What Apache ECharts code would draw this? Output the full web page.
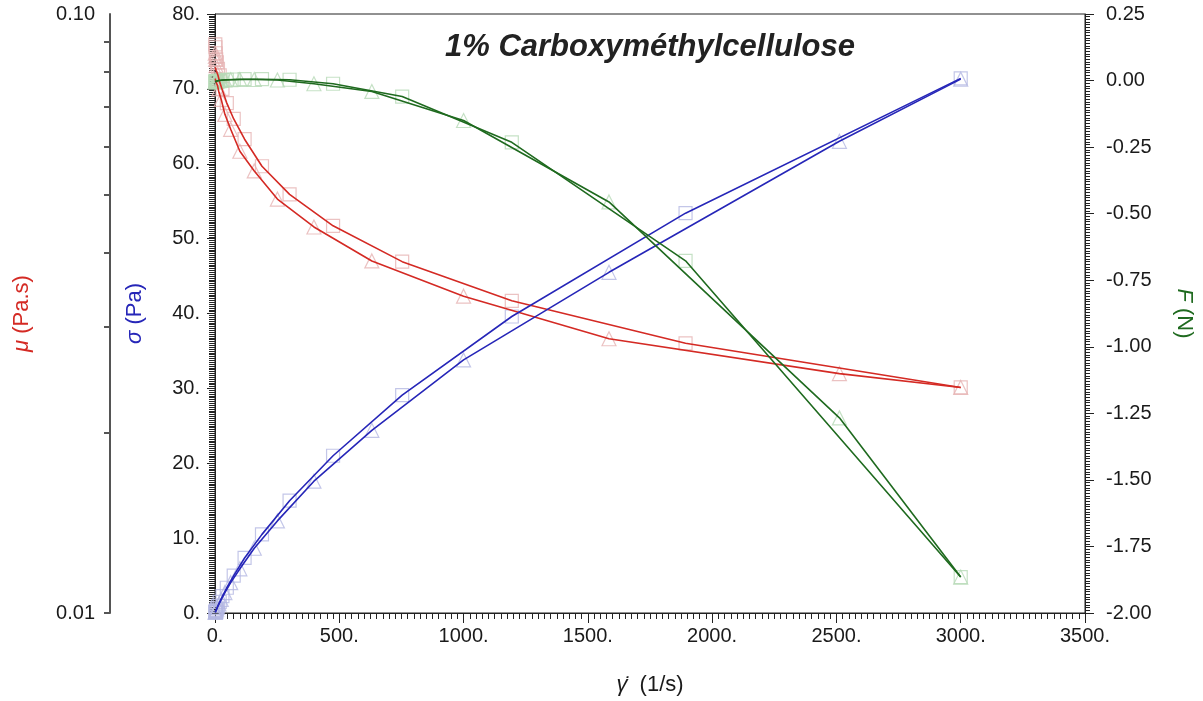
<!DOCTYPE html>
<html><head><meta charset="utf-8">
<script src="https://cdn.jsdelivr.net/npm/echarts@6/dist/echarts.min.js"></script>
<style>html,body{margin:0;padding:0;background:#fff}#c{width:1203px;height:701px}</style>
</head><body><div id="c"></div>
<script>
const chartTitle = '1% Carboxyméthylcellulose';
// shear rate (1/s) for the two measurement sets
const shearSq  = [1.2, 1.9, 3.0, 4.7, 7.5, 11.9, 18.9, 30, 47.5, 75.3, 119, 189, 300, 475, 753, 1194, 1893, 3000];
const shearTri = [1.0, 1.6, 2.5, 4.0, 6.3, 10, 15.8, 25.1, 39.8, 63.1, 100, 158, 251, 398, 631, 1000, 1585, 2512, 3000];
// viscosity mu (Pa.s): measured points
const muSq  = [0.089, 0.088, 0.086, 0.084, 0.083, 0.081, 0.079, 0.075, 0.071, 0.0668, 0.0618, 0.0557, 0.050, 0.0443, 0.0386, 0.0332, 0.0282, 0.0238];
const muTri = [0.086, 0.085, 0.084, 0.082, 0.080, 0.078, 0.075, 0.072, 0.068, 0.0642, 0.059, 0.0547, 0.0491, 0.0441, 0.0387, 0.0338, 0.0287, 0.0251, 0.0238];
// viscosity mu (Pa.s): curves
const muCurveSq  = [0.0815, 0.0813, 0.081, 0.0805, 0.080, 0.079, 0.077, 0.0745, 0.071, 0.0668, 0.0618, 0.0557, 0.050, 0.0443, 0.0386, 0.0332, 0.0282, 0.0238];
const muCurveTri = [0.078, 0.0778, 0.0775, 0.077, 0.0765, 0.076, 0.074, 0.072, 0.068, 0.0642, 0.059, 0.0547, 0.0491, 0.0441, 0.0387, 0.0338, 0.0287, 0.0251, 0.0238];
// shear stress sigma (Pa)
const sigmaSq  = [0.11, 0.17, 0.26, 0.39, 0.61, 0.96, 1.48, 2.25, 3.37, 5.0, 7.35, 10.5, 15.0, 21.0, 29.1, 39.6, 53.4, 71.4];
const sigmaTri = [0.086, 0.136, 0.21, 0.33, 0.50, 0.78, 1.2, 1.8, 2.72, 4.05, 5.9, 8.65, 12.3, 17.6, 24.4, 33.8, 45.5, 63.0, 71.3];
// normal force F (N)
const forceSq  = [-0.004, -0.003, -0.004, -0.002, -0.003, -0.001, 0.0, 0.002, 0.003, 0.004, 0.005, 0.005, 0.003, -0.012, -0.06, -0.232, -0.677, -1.865];
const forceTri = [-0.005, -0.004, -0.004, -0.003, -0.002, -0.001, 0.0, 0.001, 0.002, 0.003, 0.004, 0.004, 0.002, -0.012, -0.041, -0.15, -0.456, -1.267, -1.865];
// axis ticks
const muTickValues = [0.01, 0.02, 0.03, 0.04, 0.05, 0.06, 0.07, 0.08, 0.09, 0.1];

const FONT = 'Liberation Sans';
const TXT = '#1a1a1a';
const RED = '#d42a24', BLUE = '#2626b8', GREEN = '#1f6a1f';
const RED_M = '#e6b3b3', BLUE_M = '#b4b8e2', GREEN_M = '#b6d9b6';
const LBL = 20, NAME = 22;

function pairs(xs, ys) { return xs.map((x, i) => [x, ys[i]]); }

function lineSeries(xs, ys, yIdx, color) {
  return { type: 'line', yAxisIndex: yIdx, data: pairs(xs, ys), showSymbol: false, symbol: 'none',
    lineStyle: { color: color, width: 1.6 }, z: 5, animation: false };
}
function markSeries(xs, ys, yIdx, color, sym) {
  return { type: 'scatter', yAxisIndex: yIdx, data: pairs(xs, ys), symbol: sym, symbolSize: sym === 'rect' ? 13 : 14,
    itemStyle: { color: 'rgba(255,255,255,0)', borderColor: color, borderWidth: 1.2 }, z: 2, animation: false };
}
function nameStyle(color) {
  return { fontFamily: FONT, fontSize: NAME, color: color, rich: { i: { fontFamily: FONT, fontSize: NAME, fontStyle: 'italic', color: color } } };
}

const chart = echarts.init(document.getElementById('c'), null, { renderer: 'canvas' });
const option = {
  backgroundColor: '#fff',
  animation: false,
  title: { text: chartTitle, left: 645, top: 27, textAlign: 'center',
    textStyle: { fontFamily: FONT, fontSize: 31, fontWeight: 'bold', fontStyle: 'italic', color: '#222' } },
  grid: { left: 215, right: 113, top: 14, bottom: 85, show: true, borderColor: '#222', borderWidth: 1, backgroundColor: 'transparent' },
  xAxis: {
    type: 'value', min: 0, max: 3500, interval: 500,
    name: '{i|γ̇}  (1/s)', nameLocation: 'middle', nameGap: 61,
    nameTextStyle: nameStyle(TXT),
    axisLine: { show: true, lineStyle: { color: '#222', width: 1 } },
    axisTick: { show: true, inside: false, length: 10, lineStyle: { color: '#222' } },
    minorTick: { show: true, splitNumber: 20, length: 6, lineStyle: { color: '#222' } },
    axisLabel: { formatter: v => v + '.', fontFamily: FONT, fontSize: LBL, color: TXT, margin: 13 },
    splitLine: { show: false }
  },
  yAxis: [
    {
      type: 'value', position: 'left', min: 0, max: 80, interval: 10,
      name: '{i|σ} (Pa)', nameLocation: 'middle', nameGap: 69, nameRotate: 90,
      nameTextStyle: nameStyle(BLUE),
      axisLine: { show: true, lineStyle: { color: '#222', width: 1 } },
      axisTick: { show: true, inside: false, length: 8, lineStyle: { color: '#222' } },
      minorTick: { show: true, splitNumber: 40, length: 6, lineStyle: { color: '#222' } },
      axisLabel: { formatter: v => v + '.', fontFamily: FONT, fontSize: LBL, color: TXT, margin: 15 },
      splitLine: { show: false }
    },
    {
      type: 'log', logBase: 10, position: 'left', offset: 105, min: 0.01, max: 0.1, interval: 1,
      name: '{i|μ} (Pa.s)', nameLocation: 'middle', nameGap: 77, nameRotate: 90,
      nameTextStyle: nameStyle(RED),
      axisLine: { show: true, lineStyle: { color: '#555', width: 2 } },
      axisTick: { show: true, inside: false, length: 6, customValues: muTickValues, lineStyle: { color: '#555', width: 2 } },
      axisLabel: { formatter: v => Number(v).toFixed(2), fontFamily: FONT, fontSize: LBL, color: TXT, margin: 15 },
      splitLine: { show: false }
    },
    {
      type: 'value', position: 'right', min: -2, max: 0.25, interval: 0.25,
      name: '{i|F} (N)', nameLocation: 'middle', nameGap: 88, nameRotate: -90,
      nameTextStyle: nameStyle(GREEN),
      axisLine: { show: true, lineStyle: { color: '#222', width: 1 } },
      axisTick: { show: true, inside: false, length: 9, lineStyle: { color: '#222' } },
      minorTick: { show: true, splitNumber: 25, length: 5, lineStyle: { color: '#222' } },
      axisLabel: { formatter: v => v.toFixed(2), fontFamily: FONT, fontSize: LBL, color: TXT, margin: 21 },
      splitLine: { show: false }
    }
  ],
  series: [
    markSeries(shearSq, muSq, 1, RED_M, 'rect'),
    markSeries(shearTri, muTri, 1, RED_M, 'triangle'),
    markSeries(shearSq, sigmaSq, 0, BLUE_M, 'rect'),
    markSeries(shearTri, sigmaTri, 0, BLUE_M, 'triangle'),
    markSeries(shearSq, forceSq, 2, GREEN_M, 'rect'),
    markSeries(shearTri, forceTri, 2, GREEN_M, 'triangle'),
    lineSeries(shearSq, muCurveSq, 1, RED),
    lineSeries(shearTri, muCurveTri, 1, RED),
    lineSeries(shearSq, sigmaSq, 0, BLUE),
    lineSeries(shearTri, sigmaTri, 0, BLUE),
    lineSeries(shearSq, forceSq, 2, GREEN),
    lineSeries(shearTri, forceTri, 2, GREEN)
  ]
};
chart.setOption(option);
</script>
</body></html>
